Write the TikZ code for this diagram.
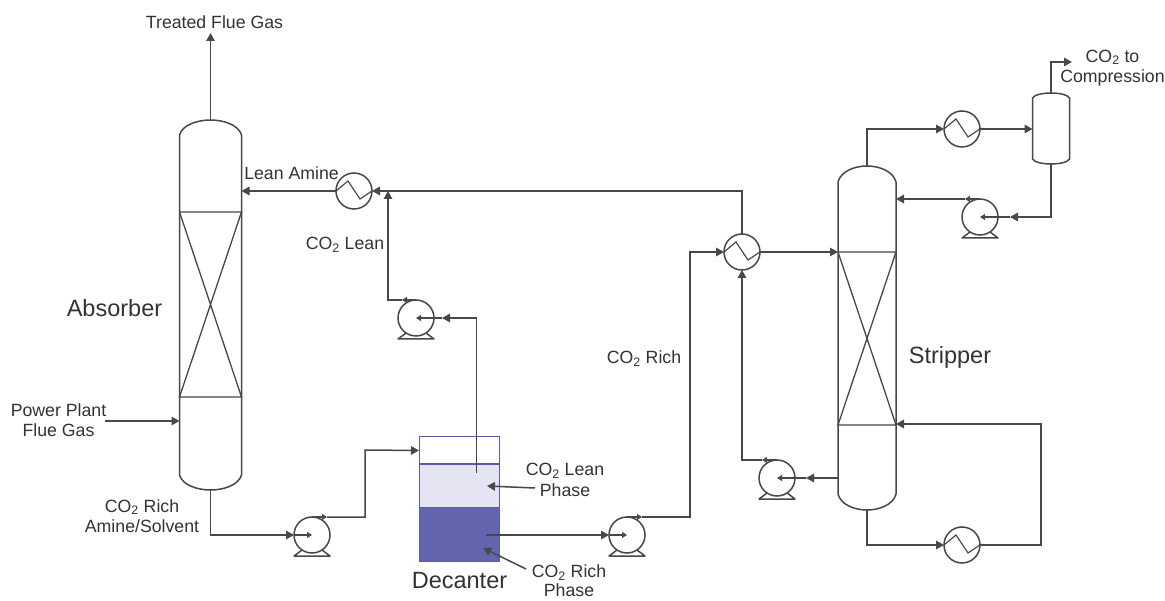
\documentclass[tikz,border=0pt]{standalone}
\usepackage{fontspec}
\setmainfont{Liberation Sans}
\usetikzlibrary{arrows.meta,calc}
\definecolor{pipe}{HTML}{484848}
\definecolor{txt}{HTML}{333333}
\definecolor{decline}{HTML}{5A5AAE}
\definecolor{leanfill}{HTML}{E4E4F2}
\definecolor{richfill}{HTML}{6265AD}
\tikzset{
  flowline/.style={draw=pipe,line width=1.5pt,line join=miter},
  bigtip/.style={-{Triangle[length=8pt,width=8.5pt]}},
  smalltip/.style={-{Triangle[length=5pt,width=6pt]}},
  unit/.style={circle,draw=pipe,line width=1.5pt,minimum size=36pt,inner sep=0pt,outer sep=0pt},
  vesselbox/.style={rectangle,inner sep=0pt,outer sep=0pt},
  lbl/.style={text=txt,font=\fontsize{17.7}{20.5}\selectfont,align=center,inner sep=0pt},
  biglbl/.style={text=txt,font=\fontsize{23.5}{26}\selectfont,inner sep=0pt},
}
\newcommand\HeatX[3]{%
  \node[unit] (#1) at (#2,#3) {};
  \draw[flowline,line width=1.2pt] (#1.west) -- ++(12,-10) -- ++(12,18) -- (#1.east);
}
\newcommand\PumpU[3]{%
  \node[unit] (#1) at (#2,#3) {};
  \draw[flowline,line join=round] ($(#1.center)+(-10,15)$) -- ($(#1.center)+(-18,21)$) -- ($(#1.center)+(18,21)$) -- ($(#1.center)+(10,15)$);
}
% name, cx, top, bottom, half width, dome height
\newcommand\VesselU[6]{%
  \node[vesselbox,minimum width=#5*2pt,minimum height=#4pt-#3pt] (#1) at (#2,{(#3+#4)/2}) {};
  \draw[flowline] (#2-#5,#3+#6) .. controls (#2-#5+0.1*#5,#3+0.3*#6) and (#2-0.4*#5,#3) .. (#2,#3)
     .. controls (#2+0.4*#5,#3) and (#2+#5-0.1*#5,#3+0.3*#6) .. (#2+#5,#3+#6)
     -- (#2+#5,#4-#6)
     .. controls (#2+#5-0.1*#5,#4-0.3*#6) and (#2+0.4*#5,#4) .. (#2,#4)
     .. controls (#2-0.4*#5,#4) and (#2-#5+0.1*#5,#4-0.3*#6) .. (#2-#5,#4-#6) -- cycle;
}
% cx, half width, top, bottom
\newcommand\PackingU[4]{%
  \draw[flowline,line width=1.3pt] (#1-#2,#3) -- (#1+#2,#3) -- (#1-#2,#4) -- (#1+#2,#4) -- (#1-#2,#3);
}
\begin{document}
\begin{tikzpicture}[x=1pt,y=-1pt]
\useasboundingbox (0,0) rectangle (1165,601);
\fill[white] (0,0) rectangle (1165,601);

% vessels
\VesselU{abs}{210.5}{120}{490}{31}{15}
\PackingU{210.5}{31}{212}{397}
\VesselU{str}{867}{166}{510}{29}{16}
\PackingU{867}{29}{252}{425}
\VesselU{sep}{1051}{93}{164}{18.5}{5}

% heat exchangers and pumps
\HeatX{hxa}{354}{191}
\HeatX{hxb}{742}{252}
\HeatX{hxc}{962}{129}
\HeatX{hxd}{962}{545}
\PumpU{pla}{416}{318}
\PumpU{plb}{980}{217}
\PumpU{plc}{777}{478}
\PumpU{pld}{312}{535}
\PumpU{ple}{627}{535}

% decanter
\node[rectangle,draw=decline,line width=1pt,minimum width=80pt,minimum height=27pt,inner sep=0,outer sep=0] (dtop) at (459,450.5) {};
\node[rectangle,draw=decline,fill=leanfill,line width=1pt,minimum width=80pt,minimum height=43pt,inner sep=0,outer sep=0] (dlean) at (459,485.5) {};
\node[rectangle,draw=decline,fill=richfill,line width=1pt,minimum width=80pt,minimum height=54pt,inner sep=0,outer sep=0] (drich) at (459,534) {};

% free ends
\coordinate (gasout) at (210.5,33);
\coordinate (co2out) at (1072,62);
\coordinate (fluein) at (105,421);
\coordinate (leandraw) at (476.5,473);
\coordinate (richdraw) at (486,535);
\coordinate (leanann) at (535,488);
\coordinate (leanannend) at (487,486);
\coordinate (richann) at (526,569);
\coordinate (richannend) at (483,548);

% absorber connections
\draw[flowline,bigtip] (abs.north) -- (gasout);
\draw[flowline,bigtip] (fluein) -- (fluein -| abs.west);
\draw[flowline,bigtip] (hxa.west) -- (hxa.west -| abs.east);
\draw[flowline,bigtip] (hxb.north) |- (hxa.east);
% lean return
\draw[flowline,smalltip] (pla.north) -- ([xshift=-14pt]pla.north);
\draw[flowline,bigtip] ([xshift=-14pt]pla.north) -| ([xshift=34pt]hxa.center |- hxa.south) -- ([xshift=34pt]hxa.center);
\draw[flowline,bigtip] (leandraw) |- ([xshift=8pt]pla.east);
\draw[flowline,smalltip] ([xshift=8pt]pla.east) -- (pla.center);
% rich to decanter
\draw[flowline,bigtip] (abs.south) |- (pld.west);
\draw[flowline,smalltip] (pld.west) -- (pld.center);
\draw[flowline,smalltip] (pld.north) -- ([xshift=15pt]pld.north);
\draw[flowline,bigtip] ([xshift=15pt]pld.north) -| (365,450) -- (dtop.west);
% decanter to stripper
\draw[flowline,bigtip] (richdraw) -- (ple.west);
\draw[flowline,smalltip] (ple.west) -- (ple.center);
\draw[flowline,smalltip] (ple.north) -- ([xshift=15pt]ple.north);
\draw[flowline,bigtip] ([xshift=15pt]ple.north) -| (690,252) -- (hxb.west);
\draw[flowline,bigtip] (hxb.east) -- (hxb.east -| str.west);
% stripper bottoms
\draw[flowline,bigtip] (plc.center -| str.west) -- ([xshift=11pt]plc.east);
\draw[flowline,smalltip] ([xshift=11pt]plc.east) -- (plc.center);
\draw[flowline,smalltip] (plc.north) -- ([xshift=-15pt]plc.north);
\draw[flowline,bigtip] ([xshift=-15pt]plc.north) -| (hxb.south);
% reboiler
\draw[flowline,bigtip] (str.south) |- (hxd.west);
\draw[flowline,bigtip] (hxd.east) -| (1041,424) -- (str.east |- 0,424);
% condenser
\draw[flowline,bigtip] (str.north) |- (hxc.west);
\draw[flowline,bigtip] (hxc.east) -- (hxc.east -| sep.west);
\draw[flowline,bigtip] (sep.north) |- (co2out);
\draw[flowline,bigtip] (sep.south) |- ([xshift=12pt]plb.east);
\draw[flowline,smalltip] ([xshift=12pt]plb.east) -- (plb.center);
\draw[flowline,smalltip] (plb.north) -- ([xshift=-15pt]plb.north);
\draw[flowline,bigtip] ([xshift=-15pt]plb.north) -- (plb.north -| str.east);
% annotation leaders
\draw[flowline,bigtip] (leanann) -- (leanannend);
\draw[flowline,bigtip] (richann) -- (richannend);

% labels
\node[lbl] (tTreated) at (214.5,22) {Treated Flue Gas};
\node[lbl] (tPower) at (58.5,420) {Power Plant\\Flue Gas};
\node[lbl] (tRichAm) at (142,516) {CO\textsubscript{2} Rich\\Amine/Solvent};
\node[lbl] (tLeanAm) at (291.5,173) {Lean Amine};
\node[lbl] (tLean) at (345,244.5) {CO\textsubscript{2} Lean};
\node[lbl] (tRich) at (644,358.5) {CO\textsubscript{2} Rich};
\node[lbl] (tComp) at (1112.5,68) {CO\textsubscript{2} to\\Compression};
\node[lbl] (tLeanPh) at (565,480) {CO\textsubscript{2} Lean\\Phase};
\node[lbl,font=\fontsize{17.7}{19}\selectfont] (tRichPh) at (569,581) {CO\textsubscript{2} Rich\\Phase};
\node[biglbl] (tAbs) at (114.5,308.5) {Absorber};
\node[biglbl] (tStr) at (950,357) {Stripper};
\node[biglbl] (tDec) at (459.5,581) {Decanter};
\end{tikzpicture}
\end{document}
